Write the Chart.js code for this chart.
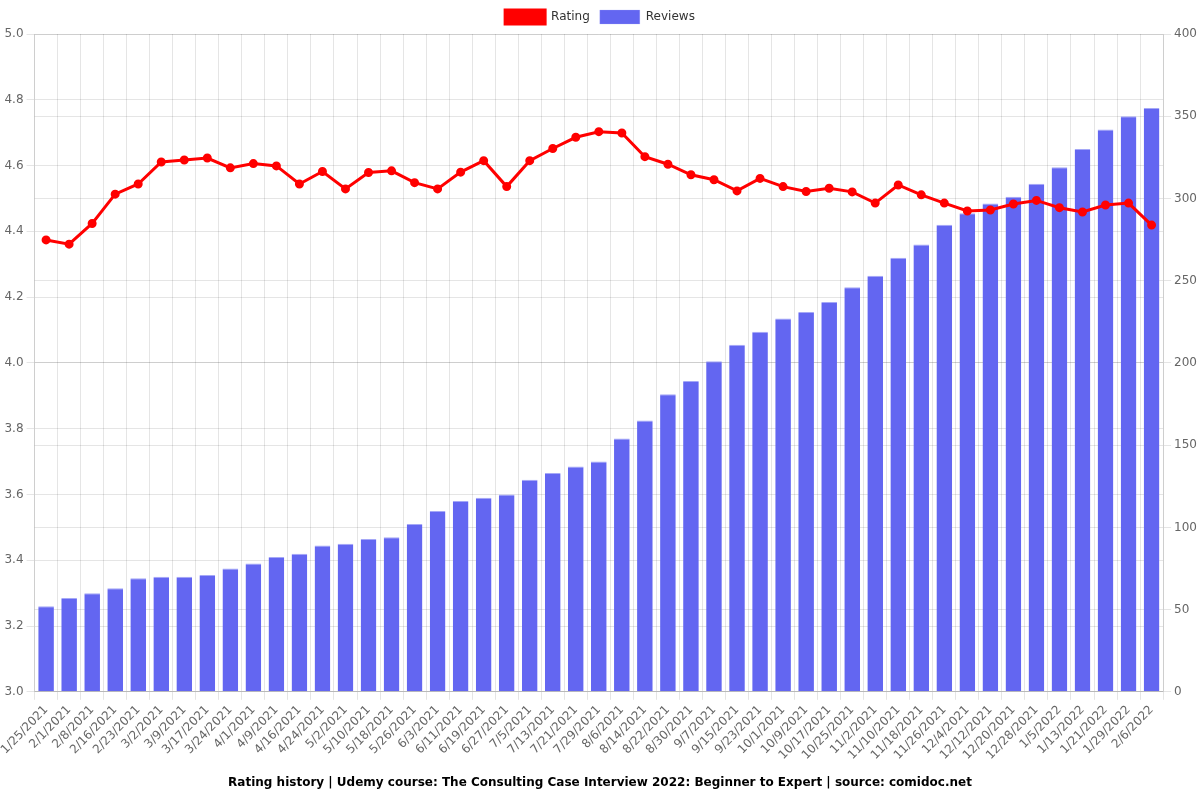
<!DOCTYPE html>
<html>
<head>
<meta charset="utf-8">
<script src="https://cdn.jsdelivr.net/npm/chart.js@4/dist/chart.umd.min.js"></script>
<style>
  html, body { margin: 0; padding: 0; background: #fff; }
  #wrap { width: 1200px; height: 800px; }
</style>
</head>
<body>
<div id="wrap"><canvas id="chart" width="1200" height="800"></canvas></div>
<script>
const dates = [
  "1/25/2021","2/1/2021","2/8/2021","2/16/2021","2/23/2021","3/2/2021","3/9/2021","3/17/2021",
  "3/24/2021","4/1/2021","4/9/2021","4/16/2021","4/24/2021","5/2/2021","5/10/2021","5/18/2021",
  "5/26/2021","6/3/2021","6/11/2021","6/19/2021","6/27/2021","7/5/2021","7/13/2021","7/21/2021",
  "7/29/2021","8/6/2021","8/14/2021","8/22/2021","8/30/2021","9/7/2021","9/15/2021","9/23/2021",
  "10/1/2021","10/9/2021","10/17/2021","10/25/2021","11/2/2021","11/10/2021","11/18/2021","11/26/2021",
  "12/4/2021","12/12/2021","12/20/2021","12/28/2021","1/5/2022","1/13/2022","1/21/2022","1/29/2022",
  "2/6/2022"
];

const rating = [
  4.374, 4.361, 4.424, 4.513, 4.544, 4.611, 4.617, 4.623, 4.593, 4.606, 4.599, 4.544,
  4.582, 4.529, 4.579, 4.584, 4.548, 4.529, 4.580, 4.615, 4.536, 4.615, 4.652, 4.686,
  4.703, 4.699, 4.627, 4.604, 4.572, 4.557, 4.523, 4.561, 4.536, 4.521, 4.531, 4.520,
  4.486, 4.541, 4.511, 4.486, 4.462, 4.465, 4.483, 4.494, 4.472, 4.459, 4.480, 4.486,
  4.419
];

const reviews = [
  52, 57, 60, 63, 69, 70, 70, 71, 75, 78, 82, 84, 89, 90, 93, 94,
  102, 110, 116, 118, 120, 129, 133, 137, 140, 154, 165, 181, 189, 201, 211, 219,
  227, 231, 237, 246, 253, 264, 272, 284, 291, 297, 301, 309, 319, 330, 342, 350,
  355
];

const titleText = "Rating history | Udemy course: The Consulting Case Interview 2022: Beginner to Expert | source: comidoc.net";

Chart.defaults.font.family = "'DejaVu Sans', sans-serif";
Chart.defaults.font.size = 12;
Chart.defaults.color = "#666";

new Chart(document.getElementById("chart"), {
  type: "bar",
  data: {
    labels: dates,
    datasets: [
      {
        type: "line",
        label: "Rating",
        data: rating,
        yAxisID: "y",
        borderColor: "#ff0000",
        backgroundColor: "#ff0000",
        borderWidth: 3,
        pointRadius: 3,
        pointBackgroundColor: "#ff0000",
        tension: 0
      },
      {
        label: "Reviews",
        data: reviews,
        yAxisID: "y1",
        backgroundColor: "#6366f1",
        borderColor: "#a5a8f7",
        borderWidth: { top: 1, left: 0, right: 0, bottom: 0 },
        categoryPercentage: 0.8,
        barPercentage: 0.85
      }
    ]
  },
  options: {
    responsive: false,
    animation: false,
    plugins: {
      legend: {
        position: "top",
        labels: { boxWidth: 40, boxHeight: 14, color: "#333" }
      },
      title: {
        display: true,
        text: titleText,
        position: "bottom",
        color: "#000",
        font: { weight: "bold", size: 12 }
      }
    },
    scales: {
      x: {
        ticks: { maxRotation: 46, minRotation: 46, autoSkip: false }
      },
      y: {
        position: "left",
        min: 3.0,
        max: 5.0,
        ticks: { stepSize: 0.2, callback: v => v.toFixed(1) }
      },
      y1: {
        position: "right",
        min: 0,
        max: 400,
        ticks: { stepSize: 50 }
      }
    }
  }
});
</script>
</body>
</html>
